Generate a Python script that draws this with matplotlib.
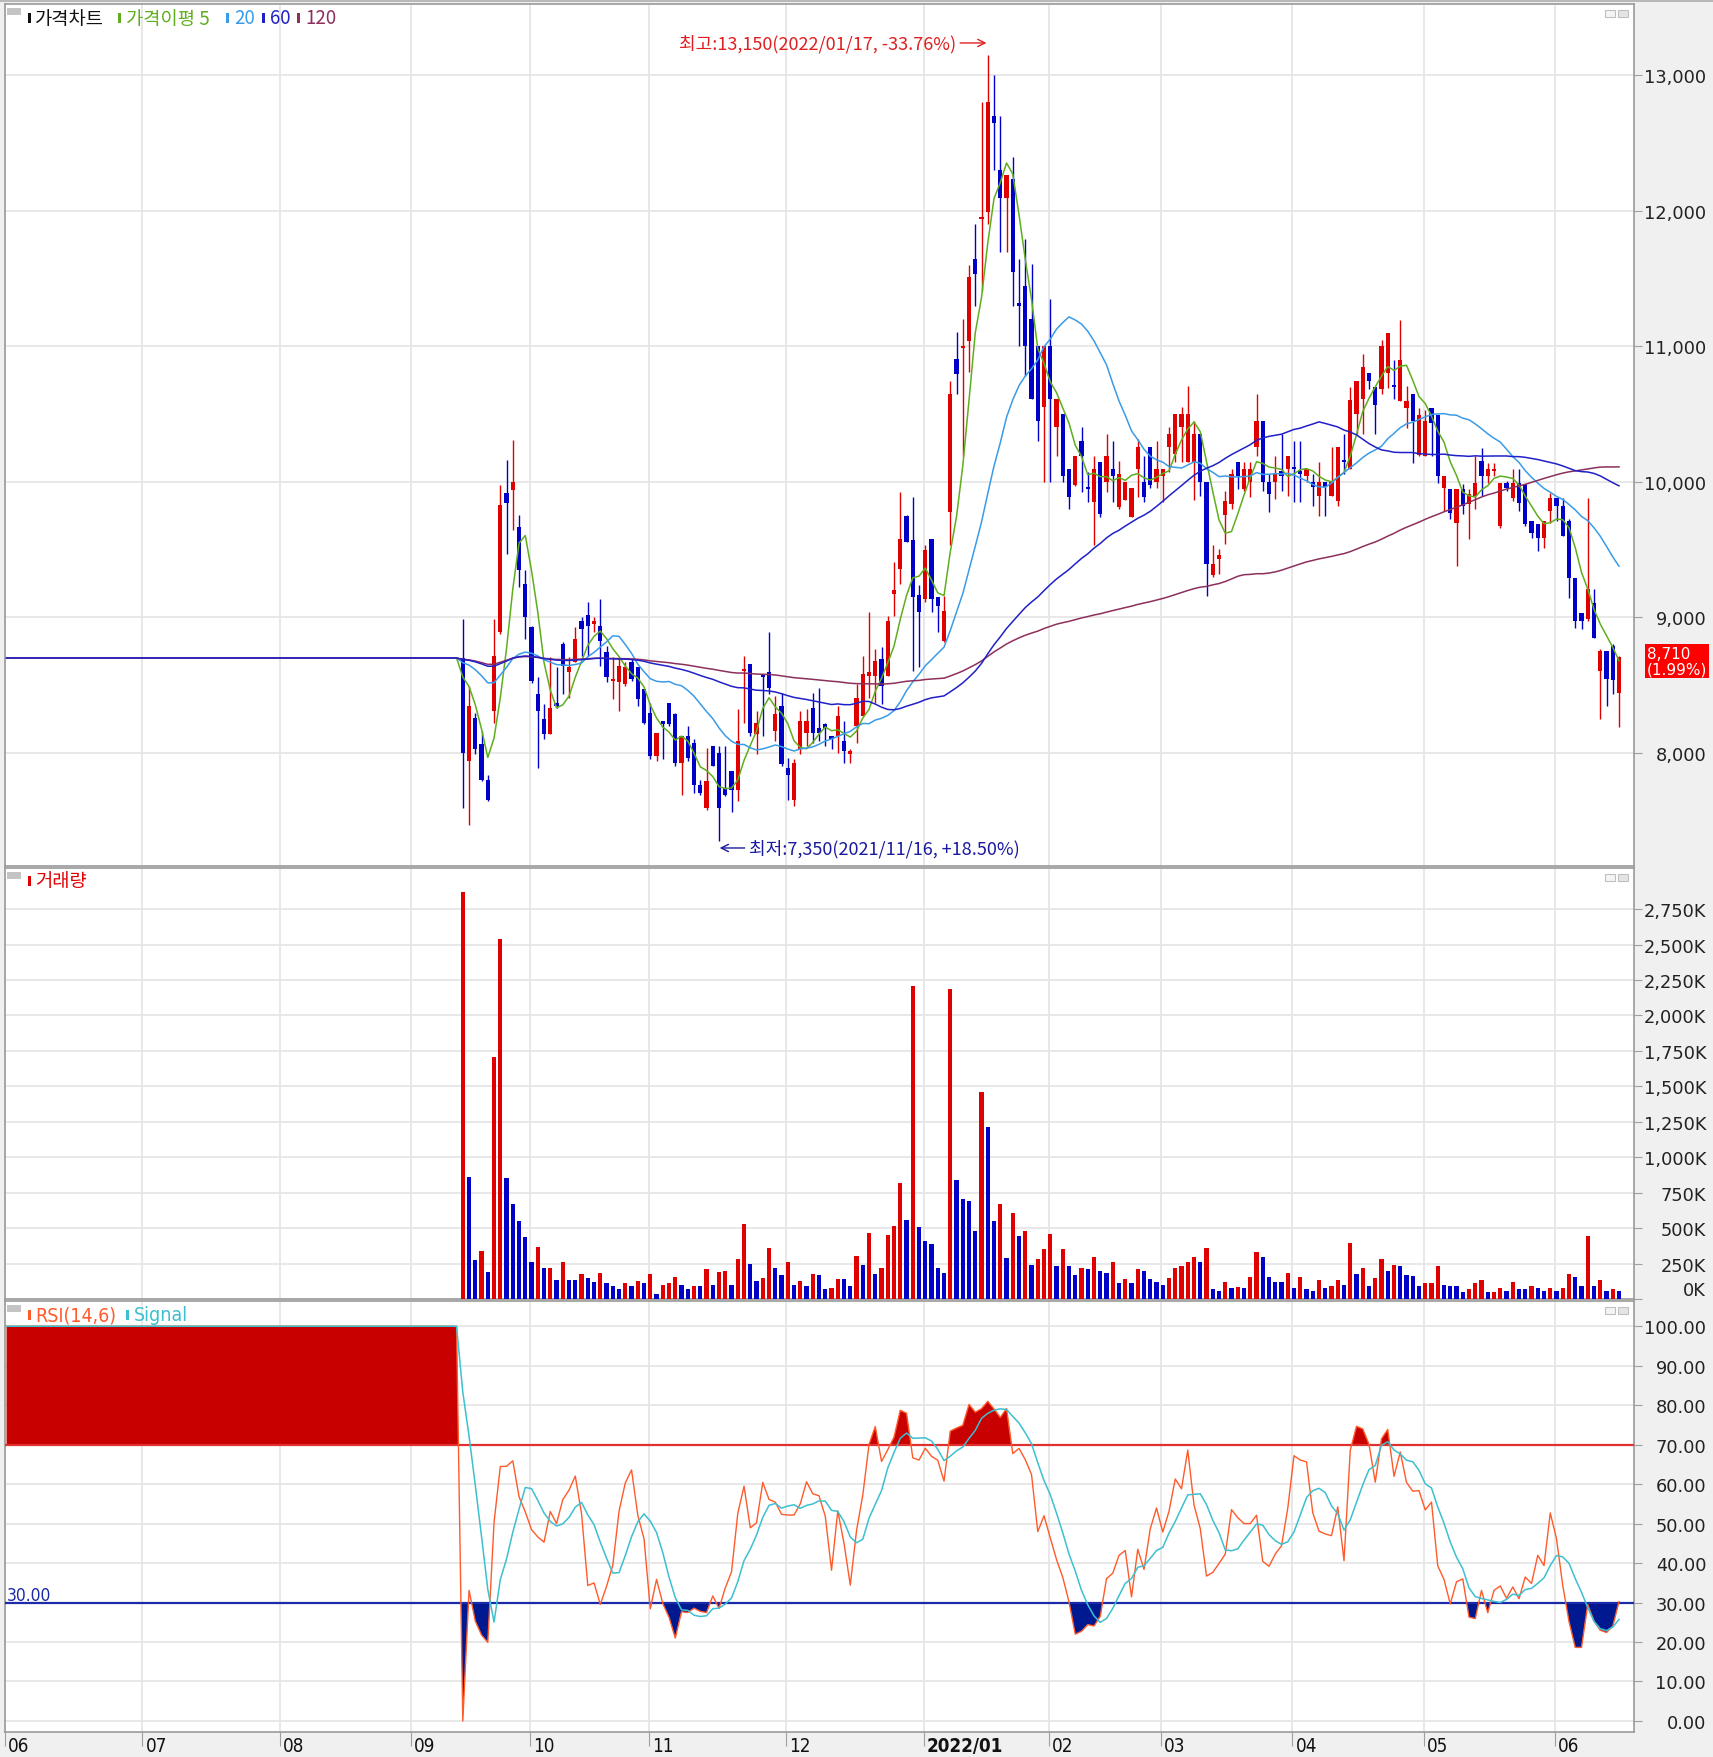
import numpy as np
import pandas as pd
import matplotlib
matplotlib.use("Agg")
import matplotlib.pyplot as plt
from matplotlib.patches import Rectangle
from matplotlib.transforms import blended_transform_factory, ScaledTranslation

# ---------------------------------------------------------------- data
month_labels = ["06", "07", "08", "09", "10", "11", "12", "2022/01", "02", "03", "04", "05", "06"]
month_index = [0, 22, 44, 65, 84, 103, 125, 147, 167, 185, 206, 227, 248]
ipo_index = 73          # first trading day (2021/09/13) on the daily axis
base_price = 8700       # flat reference price drawn before listing
high_date = "2022/01/17"
low_date = "2021/11/16"

opens = [
    8700, 7938, 8259, 8062, 7803, 8309, 8889, 9914, 9938, 9667,
    9247, 8931, 8432, 8247, 8141, 8370, 8802, 8593, 8667, 8975,
    9017, 8951, 8938, 8741, 8531, 8519, 8506, 8667, 8630, 8469,
    8296, 7975, 8235, 8365, 8284, 7926, 8124, 8074, 7766, 7593,
    8049, 8000, 7741, 7864, 7728, 8605, 8654, 8136, 8580, 8593,
    8161, 8346, 7889, 7654, 8025, 8148, 8333, 8185, 8210, 8124,
    8124, 8086, 7988, 8198, 8272, 8568, 8568, 8691, 8568, 9173,
    9358, 9748, 9568, 9161, 9136, 9580, 9148, 8827, 9778, 10906,
    10990, 11042, 11645, 11940, 11990, 12700, 12298, 12094, 12236, 11320,
    11448, 11202, 11005, 10549, 11005, 10402, 10500, 10094, 9975, 10303,
    9960, 9852, 10143, 9995, 10094, 9815, 9864, 9741, 10094, 9995,
    10254, 9995, 10044, 10254, 10205, 10402, 10143, 10143, 10352, 9995,
    9309, 9432, 9753, 9835, 10143, 9946, 9995, 10254, 10451, 9995,
    9995, 10081, 10094, 10110, 10080, 10044, 9995, 9897, 9995, 9897,
    9860, 10155, 10093, 10498, 10608, 10799, 10701, 10686, 10799, 10710,
    10595, 10546, 10644, 10201, 10189, 10545, 10496, 9956, 9943, 9698,
    9943, 9833, 9894, 10152, 10042, 10079, 9673, 9993, 9882, 9993,
    9980, 9710, 9686, 9587, 9784, 9882, 9821, 9710, 9292, 9034,
    8985, 9108, 8604, 8752, 8789, 8445,
]
highs = [
    8988, 8494, 8296, 8160, 7840, 8988, 9975, 10160, 10309, 9753,
    9346, 8938, 8556, 8358, 8704, 8630, 8815, 8704, 8926, 9000,
    9111, 9000, 9136, 8790, 8704, 8691, 8667, 8691, 8630, 8469,
    8370, 8148, 8235, 8370, 8296, 8124, 8198, 8099, 7803, 8037,
    8049, 8049, 8049, 7864, 8321, 8716, 8654, 8309, 8580, 8889,
    8420, 8444, 7963, 7951, 8309, 8321, 8444, 8482, 8222, 8124,
    8346, 8235, 8025, 8506, 8716, 9037, 8766, 8778, 9012, 9407,
    9926, 9753, 9889, 9235, 9531, 9580, 9148, 9160, 10746, 11103,
    11202, 11596, 11904, 12803, 13150, 13000, 12700, 12261, 12397, 11645,
    11793, 11608, 11005, 11005, 11350, 10611, 10500, 10094, 10192, 10402,
    10069, 10192, 10143, 10352, 10303, 10155, 9995, 9951, 10315, 10192,
    10254, 10303, 10094, 10402, 10500, 10549, 10709, 10451, 10352, 9995,
    9531, 9506, 9934, 10094, 10143, 10143, 10143, 10648, 10451, 10057,
    10192, 10352, 10192, 10303, 10303, 10094, 10057, 10143, 9995, 10254,
    10254, 10352, 10701, 10743, 10946, 10799, 10701, 11044, 11098, 10902,
    11197, 10705, 10644, 10546, 10533, 10545, 10496, 10042, 9943, 9943,
    9980, 9950, 10189, 10251, 10140, 10140, 9993, 10005, 10091, 10091,
    9980, 9710, 9686, 9710, 9919, 9882, 9882, 9722, 9292, 9034,
    9882, 9206, 8764, 8752, 8801, 8715,
]
lows = [
    7593, 7469, 7988, 7790, 7642, 8222, 8877, 9469, 9642, 9222,
    8840, 8518, 7889, 8099, 8136, 8333, 8432, 8407, 8667, 8716,
    8716, 8889, 8642, 8519, 8395, 8309, 8494, 8531, 8346, 8210,
    7951, 7938, 7951, 8198, 7901, 7691, 7938, 7704, 7691, 7580,
    7901, 7350, 7679, 7562, 7642, 8222, 8124, 7988, 8124, 8432,
    8086, 7901, 7654, 7605, 7988, 8049, 8074, 8086, 8049, 8025,
    7999, 7926, 7926, 8074, 8272, 8407, 8370, 8358, 8568, 9012,
    9247, 9556, 8605, 8630, 9111, 9037, 8889, 8815, 9531, 10648,
    10192, 10808, 11300, 11411, 11904, 12298, 11695, 11695, 11300, 11005,
    10783, 10611, 10303, 9995, 9995, 10192, 9995, 9802, 9970, 9926,
    9850, 9531, 9741, 9921, 9852, 9800, 9864, 9741, 9884, 9852,
    9951, 9951, 9852, 10069, 10143, 10143, 10143, 9864, 9897, 9160,
    9296, 9321, 9543, 9800, 9946, 9934, 9884, 10192, 9934, 9774,
    9872, 9934, 9897, 9847, 9847, 9995, 9823, 9749, 9749, 9897,
    9823, 10057, 10093, 10350, 10350, 10686, 10350, 10645, 10694, 10608,
    10595, 10398, 10140, 10189, 10189, 10189, 9993, 9784, 9722, 9378,
    9760, 9575, 9796, 9894, 9993, 10042, 9661, 9930, 9858, 9784,
    9673, 9587, 9489, 9514, 9698, 9710, 9600, 9145, 8924, 8911,
    8973, 8850, 8248, 8346, 8432, 8187,
]
closes = [
    8000, 8346, 8025, 7803, 7654, 8716, 9832, 9840, 10000, 9346,
    9000, 8531, 8309, 8141, 8333, 8346, 8642, 8630, 8840, 8914,
    8938, 8975, 8827, 8556, 8548, 8642, 8630, 8543, 8395, 8222,
    7975, 8148, 8210, 8210, 7926, 8124, 7963, 7766, 7704, 7790,
    7901, 7593, 7691, 7728, 8086, 8622, 8148, 8222, 8560, 8481,
    8284, 7914, 7840, 7926, 8235, 8235, 8148, 8148, 8185, 8099,
    8272, 8012, 8012, 8407, 8580, 8593, 8679, 8494, 8975, 9198,
    9580, 9556, 9148, 9037, 9494, 9136, 9086, 9049, 10648, 10796,
    11005, 11510, 11535, 11953, 12803, 12650, 12094, 12261, 11547, 11300,
    11005, 10611, 10451, 11005, 10611, 10611, 10044, 9889, 10192, 10192,
    9946, 10094, 9765, 10192, 10044, 10057, 9995, 9951, 10254, 9889,
    9975, 10094, 10094, 10352, 10500, 10500, 10500, 10352, 9995, 9395,
    9395, 9457, 9860, 10057, 10044, 10094, 10094, 10451, 9995, 9909,
    10057, 10044, 10192, 10094, 10060, 10094, 9958, 9995, 9958, 9995,
    10254, 10143, 10603, 10743, 10848, 10743, 10564, 11000, 11098, 10701,
    10902, 10595, 10447, 10496, 10447, 10435, 10042, 10042, 9771, 9943,
    9820, 9907, 9993, 10042, 10091, 10091, 9993, 9956, 9993, 9845,
    9686, 9624, 9587, 9710, 9882, 9821, 9600, 9292, 8973, 8973,
    9206, 8850, 8752, 8545, 8540, 8710,
]
volumes_k = [
    2870, 862, 275, 339, 192, 1705, 2538, 850, 672, 553,
    434, 264, 370, 221, 222, 135, 264, 135, 134, 178,
    145, 121, 185, 114, 90, 71, 114, 95, 126, 114,
    178, 38, 102, 114, 157, 102, 74, 90, 89, 209,
    102, 190, 199, 102, 285, 529, 245, 126, 145, 358,
    221, 166, 261, 102, 126, 90, 178, 166, 71, 81,
    142, 141, 90, 304, 240, 465, 176, 221, 453, 518,
    817, 560, 2208, 506, 411, 389, 221, 180, 2184, 838,
    707, 688, 477, 1458, 1211, 553, 667, 292, 608, 442,
    477, 240, 285, 351, 458, 233, 351, 233, 169, 221,
    209, 294, 199, 185, 264, 114, 138, 114, 209, 199,
    138, 123, 102, 145, 221, 233, 264, 294, 263, 358,
    71, 59, 123, 81, 82, 80, 157, 328, 294, 157,
    123, 122, 185, 81, 157, 71, 59, 135, 81, 93,
    135, 102, 392, 178, 221, 93, 145, 285, 199, 242,
    233, 166, 165, 93, 114, 115, 233, 102, 93, 92,
    47, 71, 114, 135, 47, 48, 81, 59, 123, 71,
    70, 93, 81, 59, 81, 59, 81, 178, 157, 93,
    444, 93, 135, 59, 71, 59,
]
price_ticks = [8000, 9000, 10000, 11000, 12000, 13000]
volume_ticks_k = list(range(0, 2751, 250))
rsi_ticks = list(range(0, 101, 10))
ma_periods = [5, 20, 60, 120]
rsi_period = 14
rsi_signal = 6

# ---------------------------------------------------------------- style
RED = "#e10000"
BLUE = "#0000c8"
MA_COLORS = {5: "#5fae1e", 20: "#3a9be8", 60: "#2020c8", 120: "#8c2f5c"}
GRID = "#e6e6e6"
SPINE = "#9a9a9a"
KFONT = ["Noto Sans CJK KR", "DejaVu Sans"]
NARROW = ["Liberation Sans Narrow", "DejaVu Sans"]
plt.rcParams["font.family"] = KFONT

W, H = 1713, 1758
fig = plt.figure(figsize=(W / 100, H / 100), dpi=100)
fig.patch.set_facecolor("#f0f0f0")

X0, X1 = 5, 1634
P_TOP, P_BOT = 5, 867
V_TOP, V_BOT = 869, 1300
R_TOP, R_BOT = 1302, 1733


def rect(x0, y0, x1, y1):
    return [x0 / W, 1 - y1 / H, (x1 - x0) / W, (y1 - y0) / H]


def fx(px):
    return px / W


def fy(py):
    return 1 - py / H


def add_box(x0, y0, x1, y1, fc, ec="none", lw=0.0):
    fig.add_artist(Rectangle((fx(x0), fy(y1)), fx(x1) - fx(x0), fy(y0) - fy(y1),
                             transform=fig.transFigure, facecolor=fc, edgecolor=ec, linewidth=lw))


ax1 = fig.add_axes(rect(X0, P_TOP, X1, P_BOT))
ax2 = fig.add_axes(rect(X0, V_TOP, X1, V_BOT), sharex=ax1)
ax3 = fig.add_axes(rect(X0, R_TOP, X1, R_BOT), sharex=ax1)

n = len(closes)
o = np.array(opens, float)
h = np.array(highs, float)
l = np.array(lows, float)
c = np.array(closes, float)
v = np.array(volumes_k, float) * 1000
x = ipo_index + np.arange(n)

gc = np.concatenate([np.full(ipo_index, float(base_price)), c])
gx = np.arange(len(gc))

# ---------------------------------------------------------------- price panel
cand_col = np.where(c >= o, RED, BLUE)
ax1.vlines(x, l, h, colors=cand_col, lw=1.0, zorder=3)
body_h = np.maximum(np.abs(c - o), 14)
ax1.bar(x, body_h, bottom=np.minimum(o, c), width=0.66, color=cand_col, linewidth=0, zorder=4)

s = pd.Series(gc)
for p in [5, 20, 120, 60]:
    ma = s.rolling(p, min_periods=1).mean().values
    ax1.plot(gx, ma, color=MA_COLORS[p], lw=1.1, zorder=5)

ax1.set_ylim(7165, 13525)

# high / low annotations
hi_i = int(np.argmax(h))
lo_i = int(np.argmin(l))
last = c[-1]
btr = blended_transform_factory(ax1.transData, ax1.transAxes)
hi_txt = f"최고:{int(h[hi_i]):,}({high_date}, {(last / h[hi_i] - 1) * 100:+.2f}%)"
lo_txt = f"최저:{int(l[lo_i]):,}({low_date}, {(last / l[lo_i] - 1) * 100:+.2f}%)"
ax1.annotate(hi_txt, xy=(x[hi_i] - 0.2, 0.9548), xycoords=btr, xytext=(-22, 0),
             textcoords="offset points", ha="right", va="center", color="#e02020",
             fontsize=13, arrowprops=dict(arrowstyle="->", color="#e02020", lw=1.0,
                                          shrinkA=1, shrinkB=0), zorder=6)
ax1.annotate(lo_txt, xy=(x[lo_i] + 0.1, 0.0209), xycoords=btr, xytext=(21, 0),
             textcoords="offset points", ha="left", va="center", color="#1a1aa0",
             fontsize=13, arrowprops=dict(arrowstyle="->", color="#1a1aa0", lw=1.0,
                                          shrinkA=1, shrinkB=0), zorder=6)

# last price tag
rtr = blended_transform_factory(ax1.transAxes, ax1.transData)
ax1.annotate(f"{int(last):,}\n({(last / c[-2] - 1) * 100:.2f}%)", xy=(1.0, last), xycoords=rtr,
             xytext=(9.5, 7.5), textcoords="offset points", ha="left", va="top",
             color="white", fontsize=11, family="DejaVu Sans", linespacing=1.0,
             bbox=dict(boxstyle="square,pad=0.12", fc="#ff0000", ec="none"),
             annotation_clip=False)

# ---------------------------------------------------------------- volume panel
prev = np.concatenate([[-1], v[:-1]])
vol_col = np.where(v >= prev, RED, BLUE)
ax2.bar(x, v, width=0.7, color=vol_col, linewidth=0, zorder=3)
ax2.set_ylim(0, 3040000)

# ---------------------------------------------------------------- RSI panel (simple-average RSI)
delta = np.diff(gc, prepend=gc[0])
up_sum = pd.Series(np.clip(delta, 0, None)).rolling(rsi_period, min_periods=1).sum().values
dn_sum = pd.Series(np.clip(-delta, 0, None)).rolling(rsi_period, min_periods=1).sum().values
den = up_sum + dn_sum
rsi = np.where(den > 1e-9, 100 * up_sum / np.where(den > 1e-9, den, 1), 100.0)
sig = pd.Series(rsi).rolling(rsi_signal, min_periods=1).mean().values

ax3.fill_between(gx, rsi, 70, where=rsi >= 70, interpolate=True, color="#c80000", lw=0, zorder=2)
ax3.fill_between(gx, rsi, 30, where=rsi <= 30, interpolate=True, color="#001890", lw=0, zorder=2)
ax3.axhline(70, color="#e03030", lw=1.6, zorder=3)
ax3.axhline(30, color="#1a2aa8", lw=1.6, zorder=3)
ax3.plot(gx, rsi, color="#ff5a2a", lw=1.0, zorder=4)
ax3.plot(gx, sig, color="#3cc0d0", lw=1.1, zorder=5)
ax3.set_ylim(-2.8, 106.4)
ax3.text(0.001, 29.6, "30.00", transform=blended_transform_factory(ax3.transAxes, ax3.transData),
         color="#1a2aa8", fontsize=12.5, family=NARROW, stretch="condensed", va="bottom", ha="left")

# ---------------------------------------------------------------- axes styling
grid_x = np.array(month_index) - 0.25
for ax in (ax1, ax2, ax3):
    ax.set_facecolor("white")
    ax.set_xlim(-0.25, 260.4)
    ax.set_axisbelow(True)
    ax.set_xticks(grid_x)
    ax.grid(True, color=GRID, lw=1.3)
    ax.yaxis.tick_right()
    ax.tick_params(axis="y", length=6, color="#a0a0a0", pad=46, labelsize=12.8,
                   labelcolor="#222222")
    for sp in ax.spines.values():
        sp.set_color(SPINE)
        sp.set_linewidth(1.2)

for ax in (ax1, ax2):
    ax.tick_params(axis="x", length=0, labelbottom=False)

ax1.set_yticks(price_ticks)
ax1.set_yticklabels([f"{t:,}" for t in price_ticks], family="DejaVu Sans")
ax2.set_yticks([k * 1000 for k in volume_ticks_k])
ax2.set_yticklabels([f"{k:,}K" for k in volume_ticks_k], family="DejaVu Sans")
ax3.set_yticks(rsi_ticks)
ax3.set_yticklabels([f"{t:.2f}" for t in rsi_ticks], family="DejaVu Sans")
for ax in (ax1, ax2, ax3):
    for lab in ax.get_yticklabels():
        lab.set_horizontalalignment("right")
ax2.get_yticklabels()[0].set_verticalalignment("bottom")

ax3.set_xticklabels(month_labels)
ax3.tick_params(axis="x", length=10, color="#a0a0a0", pad=-7, labelsize=13.5, labelcolor="#111111")
off = ScaledTranslation(3 / 100, 0, fig.dpi_scale_trans)
for lab in ax3.get_xticklabels():
    lab.set_horizontalalignment("left")
    lab.set_family(NARROW)
    lab.set_stretch("condensed")
    lab.set_transform(lab.get_transform() + off)
    if lab.get_text().startswith("2022"):
        lab.set_fontweight("bold")

# ---------------------------------------------------------------- panel decorations
add_box(0, 0, W, 3, "#b8b8b8")


def legend(items, yc, fs=12, family=None, stretch="normal"):
    for bar_x, text_x, text, color in items:
        add_box(bar_x, yc - 5, bar_x + 3, yc + 5, color)
        fig.text(fx(text_x), fy(yc), text, color=color, fontsize=fs, va="center", ha="left",
                 family=family if family else KFONT, stretch=stretch)


for top in (P_TOP, V_TOP, R_TOP):
    add_box(7, top + 4, 21, top + 11, "#c4c4c4")
    add_box(1605, top + 6, 1615, top + 13, "#f4f4f4", "#c0c0c0", 0.8)
    add_box(1618, top + 6, 1628, top + 13, "#e4e4e4", "#c0c0c0", 0.8)

legend([(28, 35, "가격차트", "#111111"),
        (118, 126, "가격이평 5", MA_COLORS[5]),
        (226, 234, "20", MA_COLORS[20]),
        (262, 270, "60", MA_COLORS[60]),
        (297, 305, "120", MA_COLORS[120])], 19, fs=13.5)
legend([(28, 35, "거래량", "#e00000")], 882, fs=13.5)
legend([(28, 35, "RSI(14,6)", "#ff5a2a"),
        (126, 134, "Signal", "#3cc0d0")], 1316, fs=14, family=NARROW, stretch="condensed")

fig.savefig("out.png", dpi=100, facecolor=fig.get_facecolor())
